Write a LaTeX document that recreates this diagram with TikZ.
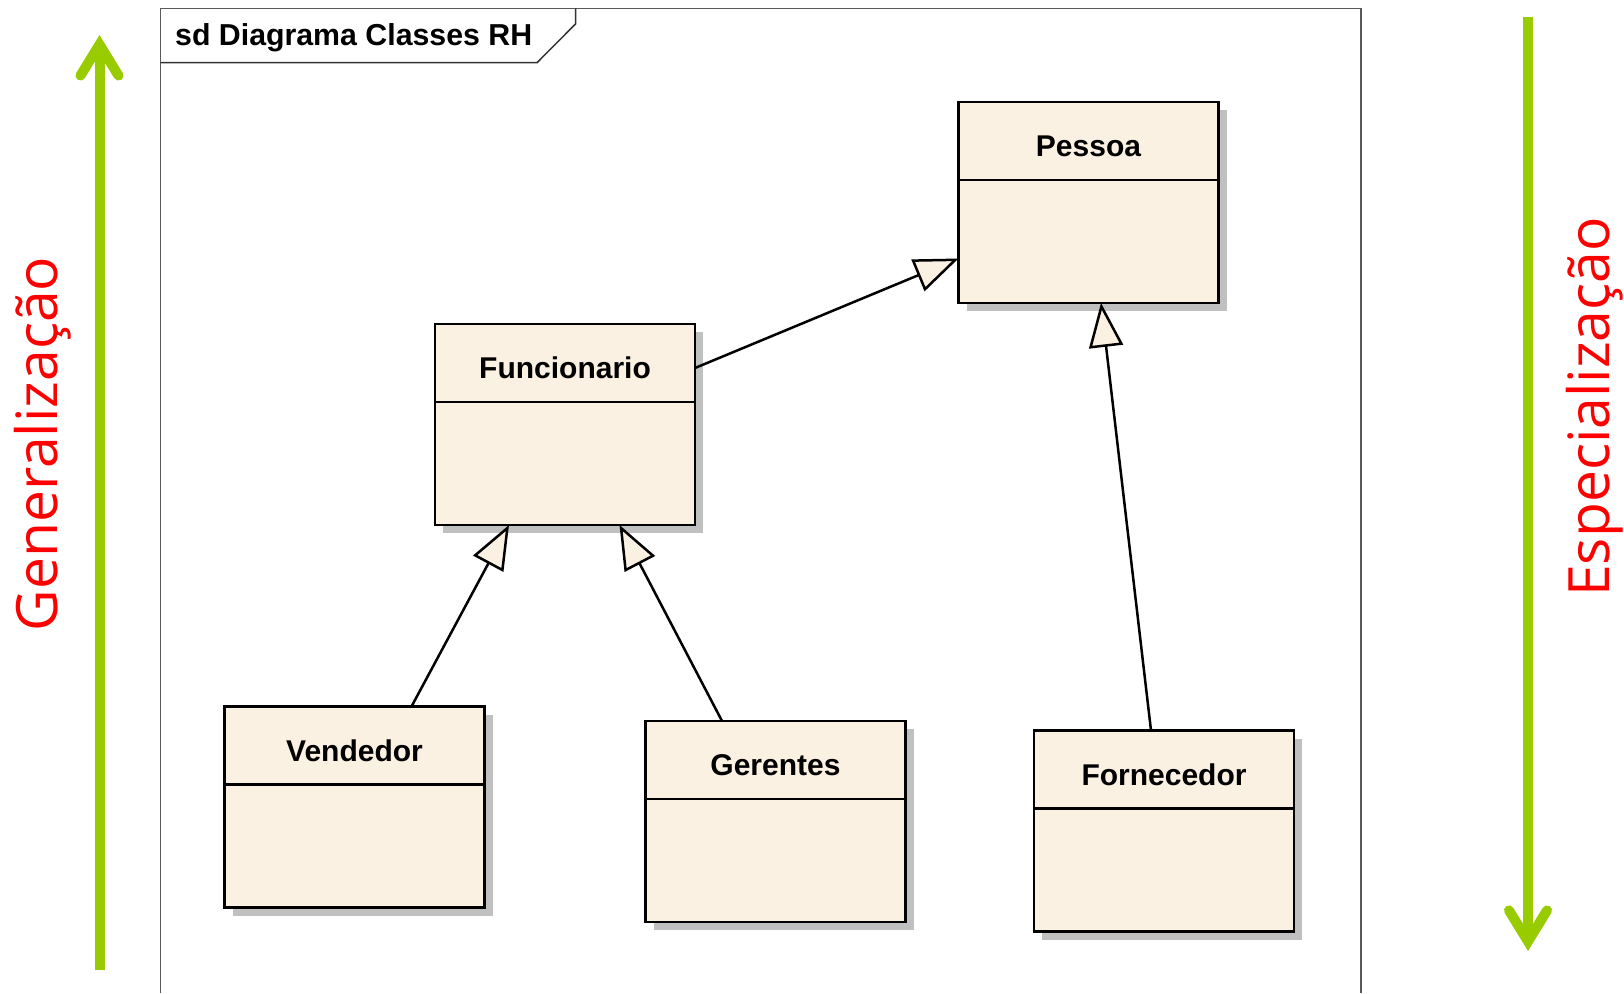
\documentclass[tikz,border=0pt]{standalone}
\usepackage{fontspec}
\setmainfont{Liberation Sans}
\newfontfamily\sidefont{Open Sans}
\usetikzlibrary{arrows.meta,positioning,shadows}

\definecolor{classfill}{RGB}{251,241,227}
\definecolor{shadowgray}{RGB}{192,192,192}
\definecolor{arrowgreen}{RGB}{153,204,0}

\tikzset{
  classhead/.style={draw, line width=2.5pt, fill=classfill, minimum width=260pt, minimum height=78pt,
    inner sep=0pt, outer sep=0pt, text height=31pt, text depth=0pt, font=\bfseries\fontsize{30}{34}\selectfont,
    drop shadow={shadow xshift=8pt, shadow yshift=-8pt, fill=shadowgray, opacity=1}},
  classbody/.style={classhead, minimum height=123pt},
  gen/.style={line width=2.5pt, -{Triangle[length=44pt, width=34pt, fill=classfill]}},
  greenarrow/.style={line width=10pt, draw=arrowgreen,
    -{Straight Barb[length=31pt, width=38pt, line cap=round, line join=miter]}},
  sidelabel/.style={text=red, font=\sidefont\fontsize{57}{60}\selectfont, rotate=90, inner sep=0pt}
}

\begin{document}
\begin{tikzpicture}[x=1pt, y=-1pt]
\useasboundingbox (0,0) rectangle (1624,993);

\draw[line width=1.5pt, black!65] (160.5,993) -- (160.5,8.3) -- (1361,8.3) -- (1361,993);
\draw[line width=1.5pt, black!80] (160.5,62.7) -- (537,62.7) -- (575.5,24) -- (575.5,8.3);
\node[anchor=west, inner sep=0pt, font=\bfseries\fontsize{30.3}{34}\selectfont] (title) at (175,37.5) {sd Diagrama Classes RH};

\node[classhead] (pessoa) at (1088.5,141) {Pessoa};
\node[classbody, below=0pt of pessoa] (pessoaB) {};
\node[classhead] (func) at (565,363) {Funcionario};
\node[classbody, below=0pt of func] (funcB) {};
\node[classhead] (vend) at (354.5,745.5) {Vendedor};
\node[classbody, below=0pt of vend] (vendB) {};
\node[classhead] (ger) at (775.5,760) {Gerentes};
\node[classbody, below=0pt of ger] (gerB) {};
\node[classhead] (forn) at (1164,769.5) {Fornecedor};
\node[classbody, below=0pt of forn] (fornB) {};

\draw[gen] ([yshift=-5pt]func.east) -- ([yshift=-17pt]pessoaB.west);
\draw[gen] ([xshift=57pt]vend.north) -- ([xshift=-56pt]funcB.south);
\draw[gen] ([xshift=-53.5pt]ger.north) -- ([xshift=54.5pt]funcB.south);
\draw[gen] ([xshift=-13pt]forn.north) -- ([xshift=12.5pt]pessoaB.south);

\coordinate (genbot) at (99.5,970);
\coordinate (gentop) at (99.5,35);
\coordinate (esptop) at (1528,16.5);
\coordinate (espbot) at (1528,951);
\draw[greenarrow] (genbot) -- (gentop);
\draw[greenarrow] (esptop) -- (espbot);

\node[sidelabel] (genlabel) at (43,444) {Generalização};
\node[sidelabel] (esplabel) at (1595,407) {Especialização};
\end{tikzpicture}
\end{document}
